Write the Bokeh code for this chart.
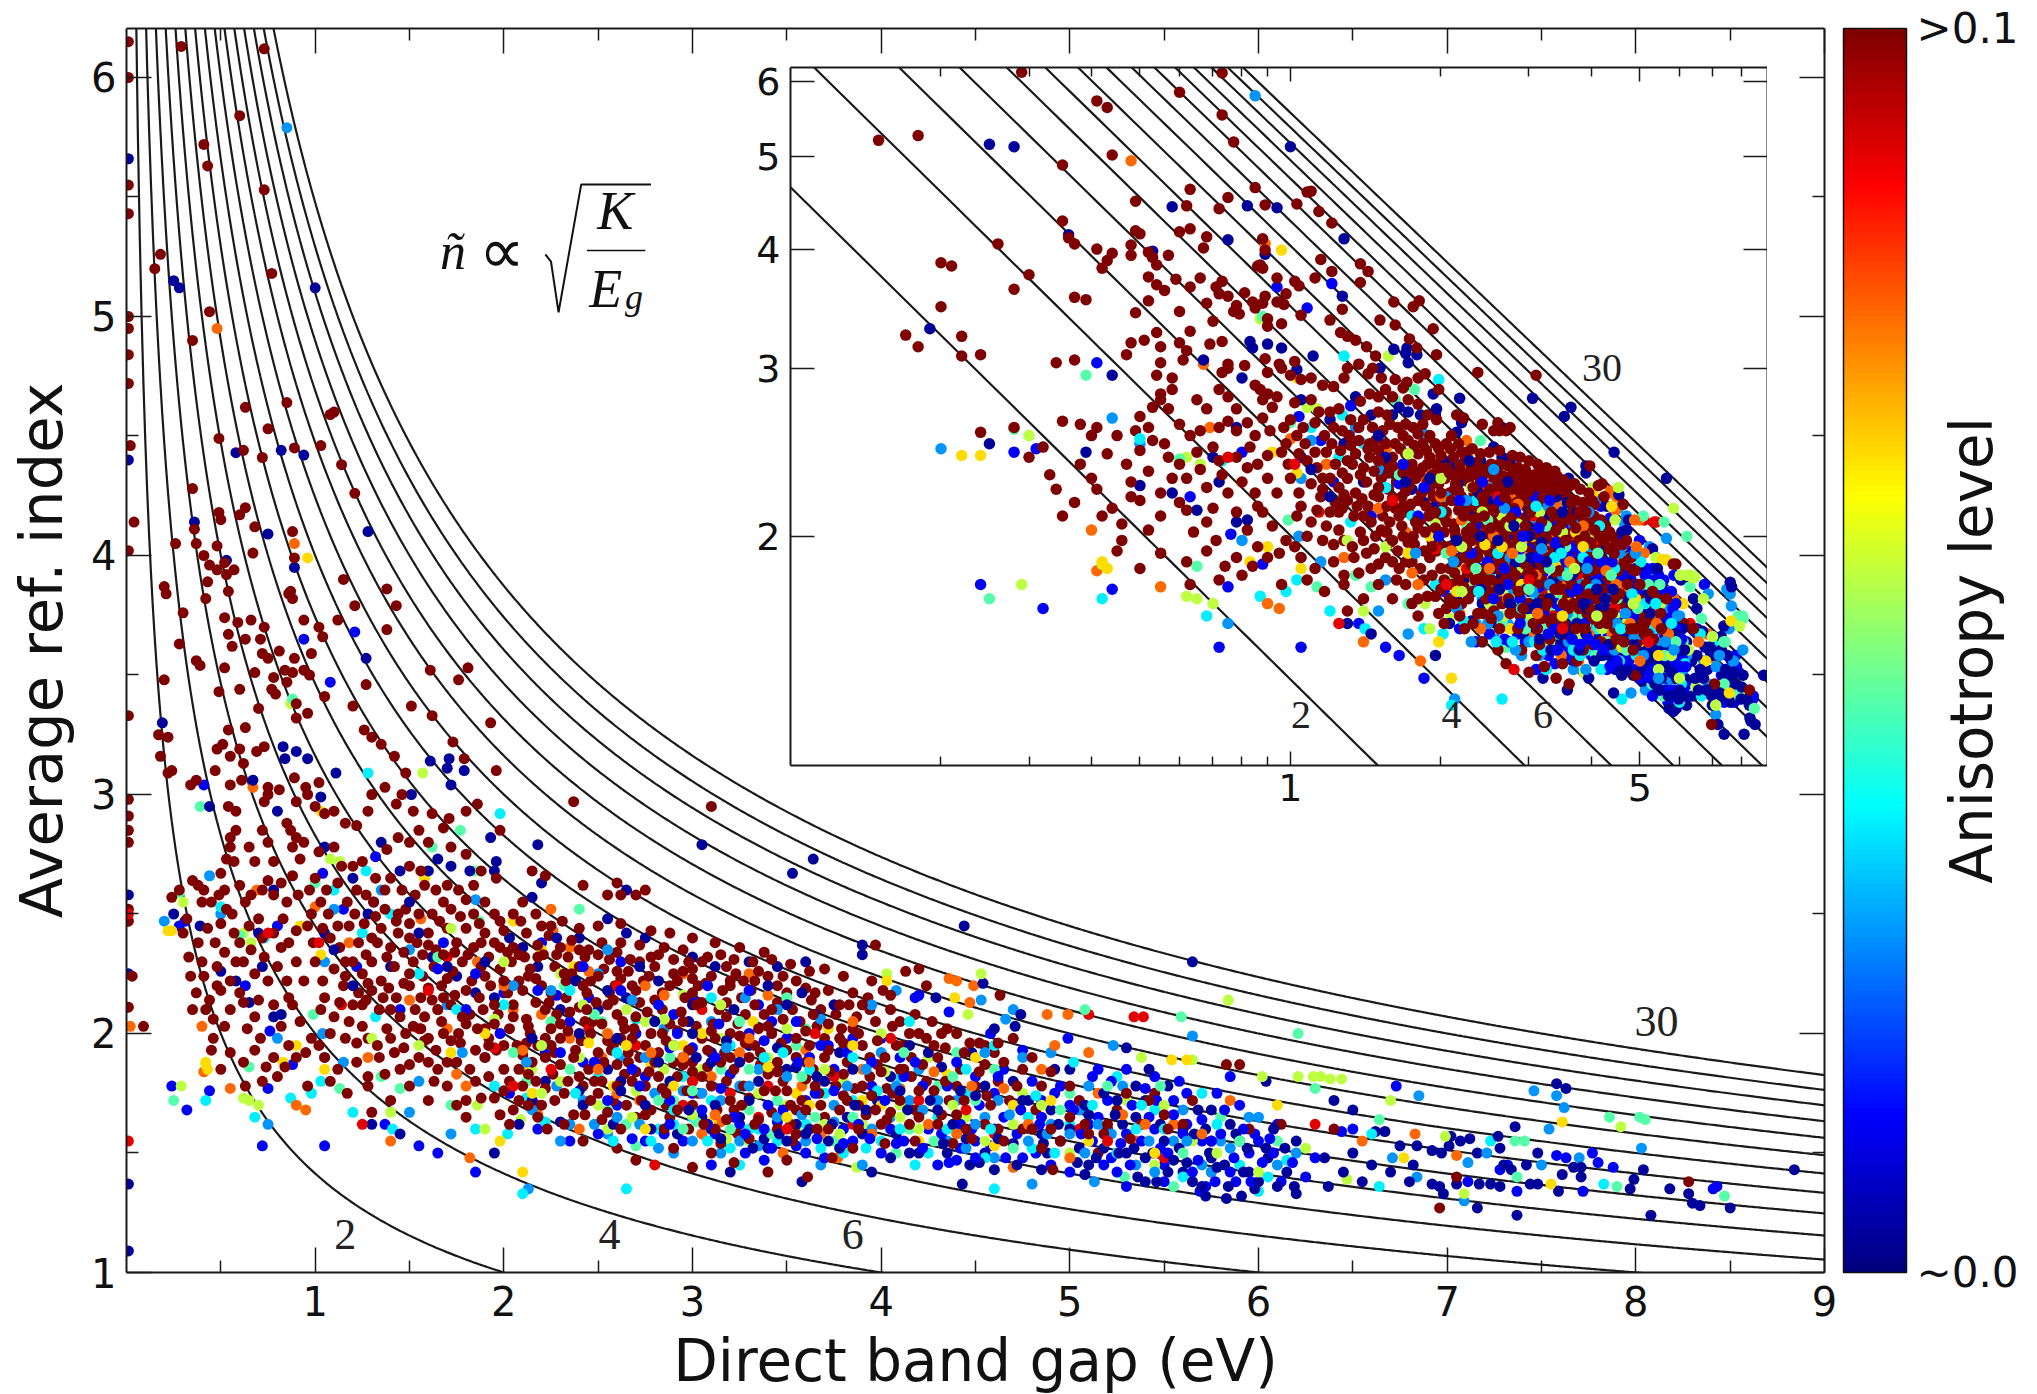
import numpy as np
from bokeh.plotting import figure
from bokeh.layouts import column
from bokeh.embed import file_html
from bokeh.resources import INLINE
from bokeh.core.properties import value
from bokeh.models import (LinearColorMapper, ColorBar, FixedTicker, LinearAxis, LogAxis,
                          BasicTickFormatter)

curve_K = [2, 4, 6, 8, 10, 12, 14, 16, 18, 20, 22, 24, 26, 28, 30]
x_ticks = [1, 2, 3, 4, 5, 6, 7, 8, 9]
x_minor = [0.5, 1.5, 2.5, 3.5, 4.5, 5.5, 6.5, 7.5, 8.5]
y_ticks = [1, 2, 3, 4, 5, 6]
y_minor = [1.5, 2.5, 3.5, 4.5, 5.5]
inset_x_ticks = [1, 5]
inset_x_minor = [.2, .3, .4, .5, .6, .7, .8, .9, 2, 3, 4, 6, 7, 8]
inset_y_ticks = [2, 3, 4, 5, 6]

level_dark_red = 0.1
level_red = 0.09
level_orange = 0.077
level_yellow = 0.066
level_lime = 0.056
level_mint = 0.046
level_cyan = 0.036
level_azure = 0.027
level_blue = 0.012
level_navy = 0.003

dark_red = [
(.01,6.15),(.01,6.0),(.01,5.55),(.01,5.43),(.01,5.0),(.01,4.95),(.01,4.84),(.01,4.72),(.02,4.46),(.01,4.02),(.01,3.33),(.01,2.98),(.01,2.91),(.01,2.85),(.01,2.8),(.01,2.52),(.01,2.47),(.03,2.24),(.01,2.11),(.09,2.03),
(.29,6.13),(.73,6.12),(.6,5.84),(.41,5.72),(.43,5.63),(.73,5.53),(.18,5.26),(.15,5.2),(.77,5.18),(.44,5.02),(.35,4.9),(.63,4.62),(.85,4.64),(1.08,4.59),(1.1,4.6),(.75,4.53),(.49,4.49),(.62,4.44),(.72,4.41),(.89,4.45),(1.03,4.46),(1.14,4.38),(1.21,4.26),(.35,4.28),(.49,4.18),(.5,4.15),(.63,4.2),(.6,4.17),(.68,4.12),(.04,4.14),(.36,4.11),(.26,4.05),(.37,4.05),(.48,4.04),(.88,4.1),(.67,4.01),(.41,4.0),(.89,3.99),(.44,3.96),(.52,3.97),(.48,3.94),(.57,3.94),(.53,3.92),(.2,3.87),(.21,3.84),(.43,3.89),(.42,3.82),(.54,3.85),(.87,3.85),(.86,3.84),(.88,3.82),(1.15,3.9),(1.38,3.86),(1.21,3.79),(1.43,3.79),(.3,3.76),(.52,3.74),(.59,3.72),(.66,3.73),(.94,3.73),(1.12,3.73),(.54,3.67),(.63,3.65),(.73,3.7),(.71,3.65),(1.02,3.7),(1.04,3.66),(1.38,3.69),(.28,3.63),(.56,3.62),(.72,3.59),(.81,3.6),(.75,3.57),(.89,3.57),(.98,3.59),(.37,3.56),(.39,3.54),(.52,3.53),(.68,3.51),(.84,3.52),(.88,3.51),(.94,3.52),(.97,3.5),(.78,3.49),(1.61,3.52),(1.81,3.53),(1.76,3.48),(.2,3.48),(.85,3.47),(1.27,3.46),(.6,3.44),(.77,3.44),(.49,3.43),(.79,3.42),(1.05,3.41),
(.9,3.38),(1.2,3.37),(1.51,3.37),(1.62,3.33),(1.93,3.3),(1.26,3.27),(1.3,3.24),(1.35,3.21),(1.42,3.16),(1.48,3.09),(1.73,3.22),(1.79,3.15),(1.96,3.1),(.17,3.25),(.22,3.24),(.18,3.16),(.22,3.09),(.24,3.1),(.34,3.04),(.37,3.06),(.48,3.19),(.51,3.21),(.54,3.27),(.63,3.28),(.7,3.36),(.55,3.16),(.6,3.19),(.62,3.13),(.69,3.18),(.73,3.2),(.47,3.1),(.55,3.04),(.61,3.06),(.75,3.03),(.81,3.02),(.9,3.32),(.96,3.34),(.89,3.07),(.95,3.03),(1.02,3.05),(2.37,2.97),(3.1,2.95),(1.86,2.96),(1.8,2.93),(1.98,2.85),
(.54,2.95),(.58,2.93),(.73,2.97),(.75,3.0),(.9,2.97),(.96,3.0),(.85,2.88),(.72,2.85),(.58,2.85),(.55,2.82),(.87,2.85),(.9,2.82),(.94,2.8),(1.0,2.95),(1.05,2.92),(1.1,2.93),(1.16,2.88),(1.22,2.87),(1.28,2.93),(1.3,3.0),(1.37,3.03),(1.43,2.96),(1.46,3.0),(1.52,2.93),(1.62,2.92),(1.71,2.9),
(.55,2.78),(.53,2.73),(.5,2.67),(.57,2.72),(.65,2.78),(.68,2.72),(.75,2.8),(.78,2.72),(.88,2.78),(.92,2.73),(1.02,2.76),(1.1,2.78),(1.14,2.7),(1.2,2.7),(1.25,2.72),(1.32,2.65),(1.38,2.77),(1.44,2.82),(1.5,2.8),(1.55,2.85),(1.6,2.8),(1.68,2.86),(1.72,2.78),(1.8,2.75),(1.88,2.68),(1.96,2.65),(2.15,2.68),(2.22,2.66),(2.42,2.62),(2.55,2.58),(2.6,2.63),(2.62,2.58),(2.7,2.58),(2.75,2.6),
(.24,2.57),(.28,2.6),(.35,2.64),(.38,2.62),(.41,2.6),(.4,2.55),(.45,2.55),(.49,2.58),(.52,2.6),(.56,2.5),(.6,2.62),(.63,2.55),(.66,2.58),(.72,2.6),(.75,2.64),(.78,2.58),(.82,2.63),(.85,2.55),(.88,2.66),(.91,2.58),(.97,2.6),(1.0,2.65),(1.03,2.55),(1.06,2.6),(1.12,2.63),(1.17,2.55),(1.22,2.6),(1.27,2.58),(1.31,2.55),(1.37,2.52),(1.4,2.65),(1.46,2.6),(1.48,2.52),(1.53,2.58),(1.58,2.62),(1.64,2.6),(1.68,2.55),(1.72,2.52),(1.8,2.56),(1.84,2.62),(1.9,2.55),(1.95,2.5),(2.05,2.5),(2.1,2.55),(2.17,2.5),(2.25,2.45),
(.3,2.42),(.32,2.48),(.43,2.44),(.47,2.38),(.5,2.46),(.57,2.42),(.6,2.38),(.65,2.45),(.7,2.48),(.72,2.4),(.78,2.42),(.83,2.48),(.86,2.38),(.9,2.43),(.96,2.45),(.99,2.38),(1.04,2.44),(1.08,2.4),(1.13,2.36),(1.18,2.45),(1.23,2.38),(1.26,2.46),(1.3,2.4),(1.35,2.44),(1.4,2.36),(1.44,2.42),(1.5,2.46),(1.54,2.38),(1.6,2.42),(1.64,2.35),(1.7,2.44),(1.75,2.38),(1.8,2.44),(1.84,2.36),(1.9,2.42),(1.95,2.38),(2.0,2.43),(2.05,2.36),(2.12,2.42),(2.18,2.37),(2.24,2.41),(2.3,2.36),(2.36,2.39),(2.45,2.35),(2.52,2.38),(2.6,2.34),(2.72,2.37),(2.82,2.33),(2.95,2.35),(3.05,2.3),
(.33,2.32),(.4,2.3),(.41,2.24),(.48,2.28),(.52,2.34),(.55,2.22),(.62,2.3),(.68,2.25),(.73,2.32),(.8,2.28),(.85,2.22),(.9,2.3),(1.0,2.3),(1.04,2.22),(1.1,2.27),(1.15,2.2),(1.2,2.3),(1.25,2.25),(1.3,2.3),(1.35,2.22),(1.42,2.28),(1.47,2.21),(1.52,2.3),(1.57,2.24),(1.63,2.28),(1.67,2.2),(1.73,2.26),(1.78,2.3),(1.83,2.22),(1.88,2.28),(1.93,2.2),(1.98,2.27),(2.04,2.3),(2.08,2.22),(2.14,2.27),(2.2,2.2),(2.27,2.28),(2.33,2.22),(2.4,2.28),(2.46,2.22),(2.53,2.27),(2.59,2.2),(2.66,2.26),(2.74,2.22),(2.8,2.28),(2.88,2.2),(2.95,2.26),(3.03,2.2),(3.1,2.24),(3.18,2.28),(3.27,2.22),(3.35,2.26),(3.45,2.2),(3.55,2.22),(3.62,2.26),
(.35,2.1),(.37,2.17),(.44,2.14),(.46,2.06),(.5,2.18),(.52,2.03),(.46,1.98),(.45,1.93),(.55,2.1),(.62,2.13),(.64,2.02),(.68,2.07),(.71,1.98),(.78,2.12),(.82,2.03),(.86,2.15),(.92,2.05),(.98,1.98),(1.03,2.1),(1.08,2.0),(1.13,2.13),(1.18,2.05),(1.23,2.17),(1.28,1.98),(1.34,2.1),(1.38,2.02),(1.43,2.15),(1.48,2.0),(1.53,2.1),(1.58,1.97),(1.62,2.14),(1.67,2.05),(1.72,2.12),(1.77,1.96),(1.82,2.08),(1.87,2.15),(1.92,1.98),(1.97,2.08),(2.02,2.17),(2.07,1.95),(2.12,2.06),(2.17,2.13),(2.22,1.98),(2.28,2.08),(2.33,2.15),(2.38,1.93),(2.43,2.05),(2.49,2.13),(2.55,1.97),(2.6,2.08),(2.66,1.92),(2.72,2.13),(2.78,2.0),(2.84,2.1),(2.9,1.95),(2.96,2.15),(3.02,2.03),(3.08,1.93),(3.14,2.1),(3.2,2.0),(3.26,2.15),(3.33,1.95),(3.38,2.08),(3.45,2.13),(3.5,1.93),(3.57,2.05),(3.63,2.14),(3.7,1.98),(3.76,2.08),(3.83,2.12),(3.9,1.95),(3.97,2.05),(4.05,2.1),(4.12,1.95),
(.62,1.88),(.63,1.78),(.72,1.8),(.78,1.9),(.84,1.86),(.9,1.9),(.96,1.78),(1.05,1.9),(1.12,1.85),(1.17,1.75),(1.22,1.88),(1.28,1.82),(1.3,1.67),(1.34,1.9),(1.4,1.72),(1.45,1.85),(1.5,1.78),(1.55,1.9),(1.6,1.72),(1.65,1.85),(1.7,1.78),(1.75,1.88),(1.8,1.65),(1.85,1.8),(1.9,1.9),(1.95,1.73),(2.0,1.85),(2.05,1.68),(2.1,1.78),(2.15,1.88),(2.2,1.7),(2.26,1.83),(2.32,1.75),(2.37,1.9),(2.43,1.66),(2.48,1.8),(2.53,1.88),(2.58,1.72),(2.64,1.83),(2.7,1.65),(2.75,1.78),(2.8,1.88),(2.86,1.7),(2.92,1.82),(2.98,1.6),(3.03,1.75),(3.08,1.86),(3.13,1.68),(3.18,1.8),(3.24,1.58),(3.3,1.73),(3.36,1.87),(3.42,1.67),(3.48,1.8),(3.53,1.55),(3.58,1.72),(3.64,1.85),(3.7,1.65),(3.76,1.78),(3.82,1.88),(3.88,1.7),(3.94,1.82),(4.0,1.62),(4.06,1.75),(4.12,1.85),(4.18,1.68),(4.24,1.8),(4.3,1.9),(4.36,1.72),(4.42,1.85),(4.5,1.78),(4.6,1.92),(4.68,1.72),(4.75,1.85),
(2.6,1.52),(2.7,1.47),(2.42,1.55),(2.9,1.52),(3.0,1.44),(3.1,1.5),(3.22,1.46),(3.4,1.42),(3.5,1.47),(3.61,1.4),(3.74,1.48),(4.91,1.43),(4.2,2.27),(4.13,2.26),(3.97,2.37),(4.63,2.16),(4.24,2.2),(4.01,2.18),(5.83,1.87),(5.9,1.87),(8.28,1.38),(6.96,1.27),(7.05,1.4),
(1.68,2.0),(1.76,2.0),(1.9,2.02),(2.12,1.96),(2.3,1.98),(2.46,2.0),(2.64,2.02),(2.84,2.0),(3.05,1.98),(3.24,2.04),(3.42,2.0),(3.66,2.03),(3.85,2.02),(4.2,2.0),(4.4,2.0),(1.42,1.92),(1.6,1.88),(2.0,1.95),(2.22,1.9),(2.5,1.92),(2.72,1.9),(3.0,1.88),(3.2,1.9),(3.45,1.88),(3.7,1.9),(4.02,1.9),(4.28,1.95),(4.7,1.98),(4.85,1.78),(5.05,1.72),(5.25,1.68),(5.45,1.75),(5.6,1.62),(5.75,1.55),(5.95,1.6),(6.12,1.62),(6.4,1.6),(4.55,1.62),(4.75,1.6),(4.95,1.55),(5.15,1.5),
(1.32,2.49),(1.43,2.47),(1.55,2.5),(1.66,2.47),(1.77,2.49),(1.87,2.46),(1.98,2.47),(2.09,2.47),(2.2,2.45),(2.31,2.47),(2.4,2.44),(2.5,2.45),(2.62,2.46),(2.78,2.43),(2.88,2.42),(3.0,2.4),(3.12,2.38),(3.25,2.36),(3.38,2.34),
(1.27,2.33),(1.38,2.32),(1.47,2.34),(1.57,2.33),(1.68,2.33),(1.81,2.33),(1.92,2.32),(2.02,2.34),(2.11,2.32),(2.21,2.33),(2.34,2.32),(2.43,2.32),(2.56,2.31),(2.67,2.31),(2.78,2.32),(2.9,2.31),(3.0,2.27),(3.15,2.33),(3.22,2.31),(3.32,2.3),(3.42,2.31),(3.52,2.29),(3.7,2.27),(3.8,2.24),(3.95,2.22),
(1.16,2.24),(1.28,2.21),(1.39,2.19),(1.5,2.25),(1.6,2.19),(1.7,2.23),(1.8,2.18),(1.9,2.24),(2.0,2.22),(2.1,2.18),(2.17,2.23),(2.25,2.17),(2.36,2.25),(2.44,2.17),(2.5,2.24),(2.56,2.17),(2.62,2.23),(2.7,2.18),(2.77,2.24),(2.84,2.17),(2.92,2.22),(3.0,2.17),(3.07,2.21),(3.16,2.18),(3.23,2.25),(3.31,2.18),(3.4,2.24),(3.5,2.17),(3.6,2.19),(3.72,2.18),(3.85,2.17),(3.93,2.15),(4.05,2.16),
(1.25,2.12),(1.36,2.15),(1.45,2.07),(1.56,2.15),(1.65,2.1),(1.74,2.16),(1.8,2.04),(1.89,2.1),(1.95,2.04),(2.05,2.12),(2.14,2.0),(2.24,2.13),(2.3,2.04),(2.4,2.11),(2.47,2.05),(2.55,2.12),(2.63,2.05),(2.7,2.07),(2.8,2.14),(2.88,2.04),(2.94,2.09),(3.05,2.13),(3.11,2.04),(3.18,2.13),(3.28,2.08),(3.35,2.02),(3.42,2.1),(3.53,2.1),(3.6,2.01),(3.68,2.1),(3.79,2.02),(3.87,2.07),(3.94,2.1),(4.1,2.05),(4.18,2.08),(4.27,2.05),(4.35,2.02),
(1.22,1.96),(1.33,1.95),(1.47,1.94),(1.56,2.02),(1.64,1.93),(1.72,1.97),(1.85,1.93),(1.96,1.93),(2.03,2.02),(2.1,1.91),(2.18,1.95),(2.27,1.92),(2.34,2.01),(2.41,1.97),(2.57,1.93),(2.62,1.98),(2.69,2.02),(2.75,1.95),(2.82,1.92),(2.92,2.01),(2.98,1.93),(3.12,1.98),(3.17,1.92),(3.28,1.96),(3.36,1.92),(3.47,1.96),(3.55,1.9),(3.62,1.95),(3.72,1.93),(3.8,1.96),(3.94,1.9),(4.08,1.95),(4.16,1.9),(4.34,1.94),(4.47,1.96),(4.55,1.95),
(1.28,1.78),(1.37,1.83),(1.5,1.87),(1.63,1.8),(1.7,1.88),(1.82,1.85),(1.92,1.82),(2.03,1.8),(2.13,1.83),(2.22,1.77),(2.3,1.87),(2.4,1.82),(2.5,1.75),(2.6,1.87),(2.68,1.8),(2.77,1.84),(2.84,1.77),(2.95,1.87),(3.0,1.8),(3.1,1.78),(3.22,1.85),(3.27,1.78),(3.4,1.83),(3.5,1.76),(3.6,1.81),(3.67,1.75),(3.8,1.83),(3.86,1.77),(3.98,1.87),(4.03,1.77),(4.16,1.82),(4.28,1.76),(4.4,1.78),(4.55,1.87),(4.62,1.8),
(1.75,1.7),(1.88,1.73),(1.98,1.66),(2.08,1.72),(2.18,1.65),(2.27,1.72),(2.37,1.66),(2.46,1.72),(2.55,1.67),(2.65,1.7),(2.78,1.68),(2.88,1.65),(3.0,1.7),(3.12,1.6),(3.22,1.68),(3.33,1.62),(3.45,1.6),(3.55,1.68),(3.66,1.6),(3.78,1.68),(3.92,1.66),(4.05,1.67),(4.15,1.62),(4.32,1.66),(4.45,1.6),(4.58,1.7),(4.82,1.68),(5.0,1.65),(5.2,1.62),(5.38,1.62),
(.34,2.24),(.38,2.38),(.42,2.1),(.48,2.2),(.53,2.52),(.58,2.3),(.6,2.17),(.66,2.35),(.7,2.14),(.75,2.22),(.82,2.36),(.88,2.12),(.94,2.22),(.98,2.5),(1.07,2.5),(1.12,2.45),(1.16,2.3),(1.21,2.5),(1.27,2.14),(1.33,2.38),(1.37,2.6),(1.44,2.5),(1.5,2.7),(1.56,2.68),(1.62,2.5),(1.7,2.62),(1.76,2.6),(1.84,2.5),(.5,1.85),(.55,1.92),(.68,1.93),(.74,1.86),(.8,1.82),(.86,1.95),(.95,1.92),(1.02,1.95),(1.08,1.8),(1.16,1.98),(1.25,2.03),(1.4,1.98),(1.52,2.03),(1.6,1.98),(1.5,2.4),(1.6,2.37),(1.74,2.34),(1.88,2.38),(1.98,2.36),(2.08,2.33),(2.18,2.32),(2.28,2.33),(2.4,2.35),(2.5,2.33),(2.62,2.38),(2.72,2.3),(2.85,2.36),(2.98,2.3),(3.08,2.32),(3.2,2.22),
(1.8,1.72),(1.92,1.95),(2.0,1.76),(2.08,1.85),(2.17,1.8),(2.25,1.95),(2.34,1.8),(2.45,1.85),(2.52,1.8),(2.58,1.95),(2.66,1.88),(2.73,1.72),(2.82,1.82),(2.9,1.88),(2.97,1.76),(3.05,1.82),(3.15,1.88),(3.2,1.72),(3.3,1.9),(3.38,1.76),(3.45,1.84),(3.52,1.7),(3.6,1.88),(3.68,1.7),(3.73,1.84),(3.82,1.72),(3.9,1.78),(3.97,1.68),(4.0,1.84),(4.1,1.72),(4.2,1.76),(4.22,1.87),(4.34,1.8),(4.44,1.72),(4.52,1.84),(4.65,1.88),(4.8,1.9),(4.9,1.84),(3.3,1.56),(3.15,1.54),(2.85,1.6),(2.62,1.6),(3.55,1.58),(3.85,1.52),(4.02,1.54),(4.18,1.55),(4.38,1.54),(4.65,1.55),(4.85,1.52),(5.1,1.58),(5.3,1.75),(5.5,1.66),
(2.03,1.62),(2.13,1.7),(2.23,1.6),(2.32,1.62),(2.42,1.78),(2.52,1.64),(2.6,1.78),(2.7,1.84),(2.75,1.66),(2.86,1.75),(2.92,1.68),(3.0,1.84),(3.06,1.62),(3.18,1.64),(3.26,1.7),(3.35,1.64),(3.44,1.76),(3.52,1.62),(3.6,1.68),(3.65,1.78),(3.72,1.6),(3.8,1.74),(3.88,1.6),(3.95,1.74),(4.03,1.64),(4.1,1.85),(4.2,1.65),(4.3,1.62),(4.4,1.66),(4.48,1.56),(4.56,1.74),(4.62,1.6),(4.72,1.78),(4.8,1.6),(4.9,1.6),(5.0,1.78),(5.08,1.62),(5.18,1.58),(5.32,1.56),(5.42,1.72),(5.52,1.6),(5.65,1.72),(2.13,2.03),(2.25,2.02),(2.35,2.09),(2.44,2.1),(2.52,2.04),(2.58,2.14),(2.68,1.98),(2.76,2.09),(2.86,1.97),(2.95,2.05),(3.02,2.12),(3.1,2.01),(3.18,2.07),(3.25,1.99),(3.33,2.12),(3.4,2.03),(3.48,2.06),(3.55,1.98),(3.64,2.08),(3.72,2.04),(3.78,1.98),(3.88,2.0),(3.98,1.97),(4.06,2.03),(4.15,2.0),(4.24,1.98),(4.32,2.0),(4.44,1.92),(4.52,1.96),(4.62,1.96),(1.05,2.15),(1.1,2.07),(1.2,2.12),(1.3,2.18),(1.4,2.1),(1.5,2.2),(1.58,2.07),(1.68,2.15),(1.78,2.07),(1.86,2.02),(1.95,2.12),(2.05,2.07),(2.13,2.24),(2.22,2.1),(2.32,2.25),(2.42,2.2),(2.6,2.26),(2.68,2.2),(2.9,2.25),(3.0,2.23),(3.2,2.2),(3.33,2.22),(3.48,2.24),(3.65,2.17),(3.78,2.12),(3.9,2.12),
]

red = [(.01,1.55),(.01,2.5),(5.39,2.07),(5.34,2.07),(5.1,2.08),(3.2,1.75),(2.7,1.95),(1.55,2.02),(1.14,2.12),(2.18,1.7),(2.95,1.7),(3.4,1.78),(3.85,1.62),(4.2,1.72),(4.6,1.58),(5.05,1.6),(5.5,1.48),(5.75,1.42),(6.3,1.62),(2.45,2.02),(1.7,2.32),(1.02,2.38),(3.05,2.1),(3.65,2.0),(.75,2.42),(1.25,1.62),(2.8,1.45),(1.95,1.94),(2.25,1.85),(2.6,2.2),(3.35,1.65),(3.75,1.82),(4.05,1.98),(4.45,1.68),(1.6,2.18),(2.05,1.78),(3.0,1.8),(3.5,1.6),(5.2,1.55),]

orange = [(.48,4.95),(.89,4.05),(.67,3.03),(.02,2.03),(.4,2.03),(.41,1.84),(.69,2.6),(1.0,2.53),(1.28,1.9),(1.18,2.38),(1.56,2.48),(2.26,2.43),(2.25,2.52),(2.35,2.36),(1.86,2.3),(2.05,2.1),(1.7,2.02),(2.35,1.98),(2.52,1.9),(2.95,2.25),(3.3,2.25),(3.6,1.93),(3.9,1.85),(4.36,2.23),(4.4,2.22),(4.49,2.2),(4.47,2.13),(4.7,1.44),(3.77,1.48),(4.99,2.08),(4.88,2.08),(6.83,1.58),(7.05,1.49),(5.15,1.75),(4.85,1.85),(4.25,1.62),(2.18,1.66),(3.15,1.63),(1.82,1.48),(.95,1.68),(1.4,1.55),(.55,1.77),(1.8,1.78),(2.6,1.75),(3.05,1.58),(3.48,1.5),(5.55,1.62),(5.85,1.72),(2.45,2.26),(1.65,2.1),(5.35,1.55),(6.55,1.55),(.9,1.7),(2.75,2.2),
(1.5,2.14),(2.0,2.2),(2.2,2.08),(2.55,2.0),(2.85,2.16),(3.1,1.82),(3.25,1.92),(3.4,2.16),(3.58,1.78),(3.68,1.58),(3.95,1.58),(4.1,1.77),(4.4,1.58),(4.65,1.77),(5.28,1.66),(5.1,1.92),(2.4,1.6),(2.72,1.72),(2.95,1.9),(1.75,1.83),(3.85,2.05),(5.7,1.58),(2.5,1.85),(3.3,1.98),(4.48,1.78),(4.78,1.62),(5.0,1.48),(5.4,1.62),(2.1,1.93),(2.78,1.92),(3.12,1.66),(3.62,1.88),(4.28,1.84),(4.92,1.95),]

yellow = [(.96,3.99),(1.03,2.93),(1.59,2.68),(1.58,2.65),(.22,2.43),(.24,2.43),(.92,2.45),(.42,1.88),(.43,1.85),(.83,1.88),(1.05,1.85),(.9,1.95),(1.03,2.33),(2.05,2.47),(2.2,2.35),(2.37,2.28),(2.58,2.14),(2.1,1.85),(2.78,1.87),(2.95,1.95),(3.32,2.05),(3.55,1.75),(3.9,1.72),(4.35,1.83),(4.03,2.22),(4.39,2.15),(5.54,1.89),(5.62,1.89),(7.61,1.63),(7.55,1.37),(6.77,1.48),(6.1,1.7),(5.1,1.55),(4.7,1.7),(3.1,1.63),(1.98,1.55),(2.58,1.78),(1.9,2.0),(2.1,1.42),(2.75,1.6),(3.72,2.02),(4.6,1.53),
(2.45,1.96),(2.9,1.78),(3.2,1.72),(3.4,1.86),(3.62,1.7),(4.0,1.7),(4.2,1.55),(4.5,1.9),(4.9,1.72),(5.45,1.5),(2.15,1.75),(1.72,1.92),(3.05,2.0),(2.65,1.95),(3.5,1.65),(3.85,1.95),]

lime = [(.87,3.38),(1.57,3.09),(1.08,2.73),(1.13,2.72),(1.87,2.68),(.62,2.42),(.66,2.38),(.3,2.55),(.42,1.87),(.29,1.78),(.62,1.73),(.65,1.72),(.7,1.7),(1.4,1.67),(1.86,1.7),(1.9,1.6),(2.3,1.8),(2.09,1.64),(2.55,1.6),(2.15,1.85),(2.45,1.98),(2.7,1.76),(2.4,1.9),(2.95,2.16),(3.05,1.85),(3.4,1.9),(3.55,1.6),(3.8,1.8),(4.03,2.25),(4.1,1.7),(4.25,1.9),(4.53,2.25),(4.46,2.08),(3.87,1.44),(4.45,1.65),(4.75,1.75),(5.0,1.5),(5.38,1.9),(5.84,2.14),(5.65,1.89),(5.3,1.72),(5.65,1.55),(6.02,1.82),(6.21,1.82),(6.29,1.82),(6.33,1.82),(6.38,1.81),(6.44,1.81),(6.7,1.72),(6.99,1.57),(6.47,1.39),(7.09,1.33),(7.92,1.61),(1.95,2.06),(2.65,2.1),(3.15,1.98),(1.3,1.98),(1.55,1.95),(2.85,1.85),(3.3,1.55),(2.0,2.3),(1.72,2.44),(3.7,1.62),(6.25,1.52),
(2.5,1.7),(2.68,1.65),(2.85,2.06),(3.0,1.66),(3.18,1.56),(3.35,1.75),(3.5,1.7),(3.78,1.58),(3.9,1.62),(4.02,1.84),(4.2,1.6),(4.38,1.7),(4.55,1.55),(4.7,1.62),(5.2,1.55),(5.45,1.45),(5.5,1.7),(5.78,1.5),(6.0,1.42),(2.2,1.95),(2.42,2.12),(2.75,2.05),(3.15,2.12),(3.5,2.02),(2.3,2.25),(4.0,2.0),(2.2,1.75),(2.9,1.95),(3.7,1.85),(4.1,1.65),(4.85,1.7),]

mint = [(.88,3.4),(.39,2.95),(.28,2.59),(1.0,2.63),(1.77,2.85),(1.84,2.68),(1.62,2.78),(1.87,2.47),(2.4,2.52),(.6,2.41),(.99,2.08),(.65,1.86),(1.13,1.77),(1.45,1.77),(2.7,1.53),(1.72,1.7),(2.12,1.8),(2.32,2.2),(2.52,2.05),(2.9,1.72),(3.15,1.85),(3.45,1.72),(3.6,2.02),(3.9,1.95),(4.15,1.6),(4.3,1.78),(4.6,1.85),(4.8,1.6),(5.08,2.1),(5.59,2.07),(5.29,1.4),(5.55,1.36),(6.21,2.0),(6.3,1.77),(6.64,1.64),(7.36,1.55),(7.41,1.55),(7.37,1.4),(7.86,1.65),(8.02,1.65),(8.05,1.64),(7.9,1.36),(8.47,1.32),(5.0,1.75),(5.8,1.65),(6.1,1.55),(1.65,2.32),(2.25,2.05),(2.75,1.95),(3.3,1.68),(3.75,1.55),(1.35,1.82),(.25,1.72),(4.4,1.92),(2.95,1.6),(3.5,2.15),
(2.55,1.68),(2.65,1.62),(2.82,1.72),(3.02,1.63),(3.2,1.6),(3.42,1.58),(3.65,1.65),(3.85,1.65),(4.08,1.5),(4.28,1.55),(4.5,1.72),(4.7,1.52),(4.95,1.68),(5.2,1.78),(5.48,1.78),(5.6,1.5),(5.9,1.55),(2.05,1.92),(2.35,1.85),(3.3,1.85),(3.55,1.95),(2.48,2.08),(2.88,1.9),(3.25,2.05),(3.0,1.76),(3.58,1.82),(4.12,1.92),(4.38,1.82),]

cyan = [(1.28,3.09),(1.98,2.92),(1.27,2.68),(1.1,2.6),(1.25,2.42),(.73,2.4),(1.4,2.5),(1.32,2.07),(1.05,1.9),(1.03,1.8),(.98,1.75),(1.2,1.67),(.87,1.73),(.68,1.65),(1.41,1.6),(1.85,1.6),(2.02,1.58),(2.1,1.33),(2.42,1.55),(2.65,1.35),(2.12,1.73),(2.5,1.82),(2.82,1.6),(2.25,1.95),(3.1,1.72),(3.35,1.6),(3.6,1.62),(3.2,1.95),(3.85,1.72),(4.1,1.82),(4.0,1.55),(4.3,1.65),(4.6,1.35),(5.0,1.62),(5.25,1.82),(5.45,1.68),(6.0,1.34),(6.64,1.36),(7.83,1.37),(7.23,1.55),(6.6,1.58),(5.7,1.75),(5.9,1.45),(1.75,2.1),(1.55,2.25),(2.35,2.18),(2.7,2.06),(2.95,1.82),(3.45,1.55),(3.25,1.45),(3.7,1.75),(4.25,1.5),(4.45,1.75),(4.8,1.52),(5.25,1.5),(5.6,1.4),(6.15,1.47),(.42,1.72),(.5,2.53),(3.0,1.65),(1.95,1.78),(2.22,1.63),
(2.58,1.55),(2.78,1.55),(2.9,1.62),(3.08,1.55),(3.2,1.52),(3.3,1.6),(3.52,1.6),(3.68,1.52),(3.8,1.5),(3.92,1.52),(4.1,1.6),(4.18,1.45),(4.35,1.6),(4.55,1.48),(4.78,1.65),(4.92,1.5),(5.12,1.7),(5.35,1.6),(5.5,1.6),(5.78,1.62),(6.05,1.4),(5.02,1.88),(3.85,1.9),(4.15,2.05),(4.6,1.95),(2.6,1.92),(2.9,1.68),(3.38,1.9),(3.62,1.85),(3.98,1.76),(4.45,1.85),(4.58,1.6),(4.82,1.74),(5.38,1.7),(2.0,2.12),(2.38,1.75),(3.1,2.15),(3.48,1.92),]

azure = [(.85,5.79),(.2,2.47),(.44,2.66),(1.05,2.3),(.5,2.5),(1.85,2.56),(1.1,2.52),(1.35,2.6),(.8,1.98),(.75,1.62),(1.04,2.0),(1.7,2.12),(1.9,1.9),(1.55,1.8),(1.15,1.88),(1.5,1.67),(2.28,1.78),(1.72,1.58),(2.13,1.35),(2.42,1.72),(2.62,1.9),(2.85,2.02),(2.55,1.58),(3.05,1.58),(3.25,1.78),(3.55,1.9),(3.35,1.53),(3.75,1.63),(3.95,1.6),(4.15,1.72),(3.68,1.45),(4.08,2.18),(4.53,2.14),(4.7,2.1),(4.66,2.06),(4.35,1.55),(4.55,1.65),(4.8,1.37),(5.13,1.38),(5.23,1.95),(5.65,1.99),(5.05,1.68),(5.55,1.55),(5.8,1.55),(6.0,1.65),(6.85,1.74),(6.84,1.4),(7.46,1.76),(7.58,1.74),(7.62,1.69),(7.54,1.6),(8.03,1.52),(7.7,1.48),(7.5,1.45),(6.71,1.48),(7.11,1.46),(7.09,1.3),(7.21,1.5),(2.05,2.2),(2.5,2.25),(1.5,2.35),(3.1,2.05),(3.45,2.1),(4.0,1.92),(4.4,1.72),(2.9,1.5),(3.15,1.5),(4.6,1.48),(4.9,1.62),(5.35,1.45),(5.7,1.45),(6.2,1.5),(2.8,1.75),(3.35,1.85),(2.3,1.55),
(2.15,1.68),(2.35,1.62),(2.48,1.62),(2.72,1.62),(2.82,1.52),(3.0,1.55),(3.25,1.55),(3.45,1.65),(3.6,1.55),(3.75,1.7),(3.9,1.45),(4.05,1.65),(4.22,1.68),(4.45,1.52),(4.62,1.72),(4.78,1.55),(5.0,1.58),(5.15,1.62),(5.28,1.78),(5.42,1.55),(5.6,1.68),(5.75,1.42),(5.95,1.65),(6.1,1.45),(4.2,1.85),(4.75,1.9),(5.1,1.78),(2.95,1.76),(3.5,1.82),(3.15,1.72),(2.6,1.65),
(3.05,1.75),(3.3,1.78),(3.58,1.66),(3.82,1.78),(4.08,1.78),(4.3,1.72),(4.5,1.62),(4.68,1.66),(4.88,1.58),(5.08,1.5),(5.22,1.58),(5.45,1.42),(5.62,1.55),(5.85,1.52),(4.55,1.92),(4.9,1.92),(2.75,1.9),(2.25,2.18),(2.55,2.35),(3.28,2.15),(3.68,2.06),(3.95,2.12),(1.78,1.92),(2.12,1.88),(2.68,2.14),(3.18,1.94),(3.92,1.85),]

blue = [(.94,3.65),(1.21,3.68),(1.08,3.47),(.41,3.04),(1.04,2.67),(1.31,2.55),(1.32,2.74),(.28,2.45),(.31,2.47),(.8,2.45),(1.15,2.52),(.63,2.2),(1.22,2.28),(.76,2.01),(.88,1.87),(.24,1.78),(.44,1.76),(.75,1.77),(.32,1.68),(.72,1.53),(1.05,1.53),(1.55,1.53),(1.37,1.62),(1.65,1.5),(1.85,1.42),(2.18,1.6),(2.03,1.75),(2.2,2.38),(2.28,2.16),(2.45,2.15),(2.22,1.92),(2.6,1.7),(2.42,1.88),(2.75,1.82),(3.0,1.75),(3.0,2.15),(3.25,1.62),(3.45,1.63),(3.2,1.83),(3.6,1.72),(3.8,1.6),(3.75,1.85),(4.05,1.6),(3.95,1.78),(4.2,2.16),(4.18,2.15),(4.36,2.09),(4.99,1.98),(4.58,2.0),(4.25,1.6),(4.5,1.55),(4.65,1.85),(4.65,1.65),(4.85,1.72),(4.95,1.55),(5.1,1.62),(5.2,1.72),(5.3,1.58),(5.45,1.6),(5.5,1.45),(5.7,1.55),(5.69,1.34),(5.85,1.82),(5.85,1.42),(6.0,1.55),(6.1,1.62),(6.3,1.48),(6.44,1.59),(6.5,1.6),(6.73,1.78),(7.58,1.49),(7.63,1.48),(7.77,1.5),(7.8,1.46),(7.88,1.44),(7.72,1.34),(7.37,1.34),(7.32,1.45),(7.28,1.43),(7.11,1.38),(8.43,1.36),(8.41,1.35),(2.0,2.17),(1.65,2.27),(1.45,2.1),(2.62,2.3),(2.9,2.08),(3.5,1.98),(3.35,2.12),(2.75,1.55),(3.1,1.45),(3.6,1.5),(4.4,1.47),(4.75,1.48),(5.0,1.42),(5.25,1.42),(5.55,1.72),(5.95,1.5),(6.25,1.4),(3.85,1.98),(4.1,1.9),(4.75,1.93),(5.15,1.85),
(2.35,1.55),(2.5,1.58),(2.68,1.56),(2.85,1.58),(2.95,1.55),(3.12,1.58),(3.28,1.5),(3.38,1.47),(3.55,1.53),(3.7,1.48),(3.85,1.55),(4.0,1.5),(4.12,1.55),(4.3,1.45),(4.42,1.62),(4.52,1.7),(4.6,1.6),(4.72,1.58),(4.82,1.5),(4.9,1.45),(5.02,1.68),(5.12,1.55),(5.22,1.48),(5.33,1.7),(5.42,1.65),(5.52,1.5),(5.62,1.62),(5.68,1.47),(5.8,1.58),(5.88,1.38),(5.98,1.58),(6.08,1.5),(4.5,1.82),(4.6,1.75),(4.8,1.8),(4.95,1.78),(5.12,1.82),(5.3,1.85),(5.45,1.82),(5.62,1.75),(5.78,1.75),(5.9,1.7),(3.0,1.94),(3.3,2.0),(3.55,2.05),(2.7,2.0),(2.35,2.05),(3.15,1.77),(3.4,1.7),(3.72,1.95),(4.0,1.98),(4.22,1.78),
(4.32,1.58),(4.42,1.52),(4.48,1.6),(4.58,1.53),(4.66,1.48),(4.74,1.68),(4.84,1.62),(4.92,1.75),(5.0,1.7),(5.06,1.58),(5.15,1.65),(5.18,1.45),(5.27,1.54),(5.32,1.45),(5.38,1.55),(5.46,1.72),(5.48,1.52),(5.55,1.66),(5.6,1.58),(5.65,1.42),(5.7,1.64),(5.75,1.55),(5.77,1.38),(5.82,1.68),(5.87,1.48),(5.92,1.6),(5.96,1.38),(6.02,1.46),(6.06,1.56),(6.12,1.38),(6.18,1.46),(5.3,1.36),(5.5,1.38),(5.72,1.36),(3.62,1.9),(3.82,1.92),(4.12,1.82),(4.35,1.78),(4.62,1.82),(4.85,1.65),(5.22,1.8),(5.4,1.77),(5.58,1.8),(2.55,1.72),(2.72,1.78),(2.88,1.72),(3.05,1.68),(3.22,1.65),(3.38,1.6),(3.48,1.68),(3.65,1.75),(3.88,1.62),(4.02,1.72),(2.3,1.92),(2.48,1.88),(2.82,2.12),(3.08,2.2),(3.42,2.05),(3.68,1.95),(1.85,2.25),(1.68,2.38),(1.8,2.1),
(2.88,1.62),(3.08,1.62),(3.28,1.58),(3.42,1.52),(3.66,1.56),(3.8,1.54),(3.94,1.56),(4.08,1.54),(4.22,1.52),(4.36,1.46),(4.5,1.48),(2.68,1.85),(2.88,1.94),(3.12,1.9),(3.38,1.97),(3.56,1.88),(3.75,1.76),(3.95,1.88),(4.18,1.88),(4.4,1.88),(1.98,2.0),(2.18,2.18),(2.42,2.28),(2.62,2.18),(2.92,2.0),(3.14,2.04),(3.3,2.18),]

navy = [(.01,5.66),(.01,4.4),(.01,2.58),(.01,2.25),(.01,1.37),(.01,1.09),(.25,5.15),(.28,5.12),(1.0,5.12),(.58,4.43),(.82,4.44),(.94,4.42),(.36,4.14),(.75,4.09),(1.28,4.1),(.53,3.98),(.89,3.95),(1.27,3.57),(.83,3.2),(.84,3.15),(.9,3.18),(.96,3.15),(1.11,3.09),(.19,3.3),(.67,3.06),(.44,2.95),(1.03,2.99),(1.61,3.14),(1.71,3.15),(1.7,3.11),(1.79,3.1),(1.72,3.04),(1.51,3.0),(2.18,2.79),(3.05,2.79),(3.53,2.67),(3.64,2.73),(4.44,2.45),(5.65,2.3),(1.93,2.82),(1.96,2.72),(.8,2.93),(1.05,2.78),(1.2,2.65),(1.35,2.8),(1.45,2.68),(1.6,2.68),(1.72,2.7),(1.82,2.68),(1.95,2.68),(1.65,2.73),(2.15,2.57),(2.2,2.63),(2.65,2.6),(2.55,2.48),(2.65,2.42),(2.75,2.4),(.25,2.5),(.39,2.45),(.7,2.42),(.78,2.6),(.58,2.22),(.5,2.26),(.72,2.28),(.65,2.13),(.78,2.07),(.82,2.08),(1.05,2.42),(1.28,2.5),(1.4,2.28),(1.62,2.32),(1.75,2.24),(1.85,2.17),(2.1,2.36),(2.03,2.4),(1.95,2.15),(2.18,2.28),(2.4,2.4),(2.3,2.1),(2.5,2.1),(2.65,2.15),(2.82,2.22),(3.0,2.32),(3.12,2.28),(3.3,2.3),(3.45,2.28),(3.6,2.3),(2.15,1.72),(2.22,1.8),(2.55,1.85),(2.42,1.7),(2.95,1.9),(3.1,1.92),(3.3,1.95),(3.5,1.85),(3.7,1.8),(3.05,1.65),(3.4,1.52),(3.2,1.42),(3.58,1.38),(1.95,1.5),(1.45,1.58),(1.3,1.62),(3.9,2.37),(3.9,2.33),(4.54,2.21),(4.29,2.15),(4.74,2.08),(4.71,2.03),(4.6,2.02),(5.3,1.94),(4.43,1.37),(4.85,1.43),(5.08,1.41),(5.4,1.38),(5.72,1.32),(5.83,1.31),(5.91,1.32),(6.19,1.36),(6.2,1.33),(6.37,1.36),(6.04,1.8),(6.4,1.72),(6.5,1.68),(6.67,1.59),(6.62,1.59),(6.92,1.51),(6.97,1.5),(6.84,1.53),(6.75,1.53),(6.82,1.45),(7.02,1.57),(7.07,1.55),(7.12,1.56),(7.01,1.53),(7.16,1.5),(7.27,1.57),(7.28,1.52),(7.3,1.45),(7.34,1.43),(7.36,1.61),(7.48,1.5),(7.48,1.37),(7.44,1.37),(7.58,1.79),(7.63,1.77),(7.67,1.44),(7.71,1.44),(7.71,1.4),(7.61,1.41),(7.59,1.34),(6.92,1.37),(6.96,1.36),(6.98,1.33),(7.05,1.37),(7.16,1.27),(7.17,1.37),(7.23,1.37),(7.28,1.36),(7.37,1.24),(8.84,1.43),(8.18,1.35),(8.28,1.33),(8.3,1.29),(8.34,1.28),(8.5,1.27),(8.08,1.24),(8.04,1.43),(7.99,1.39),(7.97,1.35),(4.7,1.7),(4.9,1.68),(5.05,1.52),(5.2,1.6),(5.35,1.65),(5.5,1.55),(5.6,1.42),(5.75,1.48),(5.95,1.42),(6.05,1.48),(6.2,1.55),(6.35,1.48),(6.5,1.5),(6.6,1.45),(5.0,1.85),(4.55,1.78),(4.85,1.58),(5.4,1.72),(5.6,1.6),(5.75,1.68),(4.25,1.92),(4.05,1.82),(3.85,1.85),(4.6,1.43),(5.3,1.5),(5.1,1.45),
(2.08,1.62),(2.3,1.63),(2.58,1.62),(2.78,1.6),(2.92,1.58),(3.1,1.6),(3.25,1.65),(3.38,1.56),(3.5,1.55),(3.62,1.6),(3.72,1.55),(3.82,1.65),(3.95,1.42),(4.08,1.58),(4.15,1.5),(4.35,1.5),(4.47,1.45),(4.55,1.5),(4.72,1.45),(4.88,1.5),(5.0,1.6),(5.08,1.7),(5.18,1.52),(5.28,1.62),(5.4,1.48),(5.48,1.62),(5.55,1.47),(5.65,1.38),(5.72,1.6),(5.82,1.45),(5.9,1.55),(5.98,1.35),(6.08,1.6),(6.15,1.42),(4.48,1.92),(4.7,1.8),(4.92,1.85),(5.18,1.75),(5.35,1.78),(5.52,1.78),(5.68,1.68),(5.85,1.62),(2.62,1.8),(2.88,1.8),(3.1,1.88),(3.35,1.8),(3.55,1.86),(3.78,1.92),(3.98,1.72),(4.15,1.95),(4.32,1.86),(2.55,2.18),(2.98,2.05),(3.22,2.1),(3.75,2.12),(1.9,2.3),(2.28,2.4),(1.55,2.42),(1.2,2.2),(1.1,2.35),
(4.38,1.62),(4.45,1.56),(4.52,1.46),(4.62,1.56),(4.7,1.54),(4.78,1.72),(4.86,1.54),(4.94,1.62),(5.04,1.46),(5.1,1.66),(5.14,1.48),(5.24,1.66),(5.26,1.5),(5.34,1.52),(5.36,1.4),(5.44,1.5),(5.46,1.38),(5.52,1.42),(5.58,1.52),(5.62,1.46),(5.66,1.58),(5.7,1.36),(5.74,1.5),(5.78,1.44),(5.84,1.36),(5.88,1.58),(5.92,1.42),(5.94,1.52),(6.0,1.38),(6.04,1.52),(6.1,1.36),(6.14,1.52),(5.25,1.72),(5.42,1.85),(4.75,1.72),(4.5,1.74),(4.3,1.68),(4.14,1.68),(3.92,1.68),(3.74,1.62),(3.55,1.62),(3.3,1.72),(3.12,1.7),(2.98,1.68),(2.75,1.7),(3.65,2.08),(3.4,2.2),(3.0,2.12),(2.72,2.28),(2.38,2.22),
(3.15,1.56),(3.32,1.52),(3.46,1.58),(3.6,1.58),(3.78,1.52),(3.9,1.58),(4.05,1.48),(4.2,1.5),(4.33,1.54),(2.4,1.76),(2.62,1.76),(2.82,1.88),(3.02,1.9),(3.25,1.88),(3.45,1.94),(3.66,1.82),(3.86,1.7),(4.1,1.76),(4.26,1.72),(4.42,1.76),(2.15,1.98),(2.4,2.0),(2.6,1.98),(2.8,2.05),(3.0,2.0),(3.18,1.97),(3.5,2.12),(3.58,2.17),(1.7,2.28),(1.5,2.55),(6.45,1.42),(6.7,1.42),(6.55,1.38),(7.42,1.45),(6.8,1.38),]

classes = [(dark_red, level_dark_red), (red, level_red), (orange, level_orange), (yellow, level_yellow), (lime, level_lime),
           (mint, level_mint), (cyan, level_cyan), (azure, level_azure), (blue, level_blue), (navy, level_navy)]
rows = []
for pts, lev in classes:
    for i, (g, n) in enumerate(pts):
        rows.append(((i + 0.5) / len(pts), g, n, lev))
rows.sort(key=lambda r: r[0])


def jet(t):
    r = np.clip(min(4 * t - 1.5, -4 * t + 4.5), 0, 1)
    g = np.clip(min(4 * t - 0.5, -4 * t + 3.5), 0, 1)
    b = np.clip(min(4 * t + 0.5, -4 * t + 2.5), 0, 1)
    return "#%02x%02x%02x" % (int(r * 255), int(g * 255), int(b * 255))


jet_palette = [jet(i / 255) for i in range(256)]
mapper = LinearColorMapper(palette=jet_palette, low=0, high=0.1)
src = dict(g=[r[1] for r in rows], n=[r[2] for r in rows], lev=[r[3] for r in rows])

INK = "#1a1a1a"
p = figure(width=2021, height=1378, frame_width=1698, frame_height=1244, x_range=(0, 9), y_range=(1, 6.205),
           output_backend="svg", toolbar_location=None, min_border_left=126, min_border_top=28, min_border_right=197,
           min_border_bottom=106, outline_line_color=None, background_fill_color="white")
p.grid.visible = False


def style(ax, ticks, minor, show):
    ax.ticker = FixedTicker(ticks=ticks, minor_ticks=minor)
    ax.major_tick_in = 25
    ax.major_tick_out = 0
    ax.minor_tick_in = 12
    ax.minor_tick_out = 0
    ax.axis_line_color = INK
    ax.axis_line_width = 2
    ax.major_tick_line_color = INK
    ax.major_tick_line_width = 1.5
    ax.minor_tick_line_color = INK
    ax.minor_tick_line_width = 1.5
    ax.major_label_text_font = "DejaVu Sans"
    if show:
        ax.major_label_text_font_size = "40px"
    else:
        ax.major_label_text_font_size = "8px"
        ax.major_label_overrides = {t: "" for t in ticks}
        ax.major_label_standoff = 0
    ax.major_label_text_color = "#111111"
    ax.axis_label_text_font = "DejaVu Sans"
    ax.axis_label_text_font_style = "normal"
    ax.axis_label_text_font_size = "59px"
    ax.axis_label_text_color = "#111111"


style(p.xaxis[0], x_ticks, x_minor, True)
style(p.yaxis[0], y_ticks, y_minor, True)
p.xaxis[0].axis_label = "Direct band gap (eV)"
p.yaxis[0].axis_label = "Average ref. index"
p.xaxis[0].axis_label_text_font_size = "58px"
p.xaxis[0].major_label_standoff = 13
p.yaxis[0].major_label_standoff = 10
p.xaxis[0].axis_label_standoff = 8
p.yaxis[0].axis_label_standoff = 12
top = LinearAxis()
style(top, x_ticks, x_minor, False)
p.add_layout(top, "above")
right = LinearAxis()
style(right, y_ticks, y_minor, False)
p.add_layout(right, "right")

gap_grid = np.linspace(0.02, 9, 900)
for K in curve_K:
    p.line(gap_grid, np.sqrt(K / gap_grid), line_color=INK, line_width=2.2)
p.scatter("g", "n", source=src, size=11, line_color=None, fill_color={"field": "lev", "transform": mapper})

curve_labels = [("2", 1.16, 1.16), ("4", 2.56, 1.16), ("6", 3.85, 1.16), ("30", 8.11, 2.05)]
for t, gx, ny in curve_labels:
    p.text([gx], [ny], text=[t], text_font=value("Liberation Serif"), text_font_size="44px", text_align="center",
           text_baseline="middle", text_color="#222222")

formula = [("ñ", 1.73, 5.27, "52px"), ("∝", 1.99, 5.27, "64px"), ("K", 2.59, 5.44, "54px"), ("E", 2.54, 5.117, "54px"), ("g", 2.69, 5.08, "36px")]
for t, gx, ny, sz in formula:
    p.text([gx], [ny], text=[t], text_font=value("Liberation Serif"), text_font_style="italic" if t != "∝" else "normal",
           text_font_size=sz, text_align="center", text_baseline="middle", text_color="#111111")
p.line([2.22, 2.25, 2.29, 2.41, 2.78], [5.26, 5.23, 5.017, 5.552, 5.552], line_color="#111111", line_width=2)
p.line([2.44, 2.75], [5.276, 5.276], line_color="#111111", line_width=1.5)

bar = ColorBar(color_mapper=mapper, ticker=FixedTicker(ticks=[0, 0.1]), major_label_overrides={0: "~0.0", 0.1: ">0.1"},
               width=63, height=1244, padding=0, location=(19, 0), major_tick_line_color=None, major_label_text_font="DejaVu Sans",
               major_label_text_font_size="42px", major_label_text_color="#111111", bar_line_color="#111111",
               bar_line_width=1.5, label_standoff=10, background_fill_alpha=0, border_line_color=None, margin=0)
p.add_layout(bar, "right")

ins = figure(width=1103, height=788, frame_width=977, frame_height=698, x_axis_type="log", y_axis_type="log",
             x_range=(0.1, 9), y_range=(1.15, 6.2), output_backend="svg", toolbar_location=None, min_border_left=118,
             min_border_top=30, min_border_right=8, min_border_bottom=60, outline_line_color=None,
             background_fill_alpha=0, border_fill_alpha=0)
ins.grid.visible = False


def style_inset(ax, ticks, minor, show):
    style(ax, ticks, minor, show)
    ax.major_tick_in = 14
    ax.minor_tick_in = 9
    if show:
        ax.major_label_text_font_size = "38px"
    ax.formatter = BasicTickFormatter()


style_inset(ins.xaxis[0], inset_x_ticks, inset_x_minor, True)
style_inset(ins.yaxis[0], inset_y_ticks, [], True)
ins.yaxis[0].major_tick_in = 24
ins.xaxis[0].major_label_standoff = 8
ins.yaxis[0].major_label_standoff = 10
t2 = LogAxis()
style_inset(t2, inset_x_ticks, inset_x_minor, False)
ins.add_layout(t2, "above")
r2 = LogAxis()
style_inset(r2, inset_y_ticks, [], False)
r2.major_tick_in = 24
ins.add_layout(r2, "right")

log_grid = np.linspace(0.1, 9, 400)
for K in curve_K:
    ex = 0.5 + 0.016 * (30 - K) / 28
    ny = np.sqrt(K * (1 + 0.001 * K)) * log_grid ** (-ex)
    ins.line(log_grid, ny, line_color=INK, line_width=2.2)
ins.scatter("g", "n", source=src, size=11.5, line_color=None, fill_color={"field": "lev", "transform": mapper})

inset_labels = [("2", 1.05, 1.3), ("4", 2.1, 1.3), ("6", 3.2, 1.3), ("30", 4.2, 3.0)]
for t, gx, ny in inset_labels:
    ins.text([gx], [ny], text=[t], text_font=value("Liberation Serif"), text_font_size="40px", text_align="center",
             text_baseline="middle", text_color="#222222")

ins.margin = (18 - 1378, 0, 0, 664)

lab = figure(width=216, height=700, frame_width=90, frame_height=700, x_range=(0, 1), y_range=(0, 1), output_backend="svg",
             toolbar_location=None, min_border_left=126, min_border_top=0, min_border_right=0, min_border_bottom=0,
             x_axis_location=None, y_axis_location=None, outline_line_color=None, background_fill_alpha=0,
             border_fill_alpha=0)
lab.grid.visible = False
lab.text([0.5], [0.5], text=["Anisotropy level"], angle=np.pi / 2, text_font=value("DejaVu Sans"), text_font_size="58px",
         text_align="center", text_baseline="middle", text_color="#111111")
lab.margin = (302 - 827, 0, 0, 1800)

page = column(p, ins, lab, spacing=0)
open("out.html", "w").write(file_html(page, INLINE))
